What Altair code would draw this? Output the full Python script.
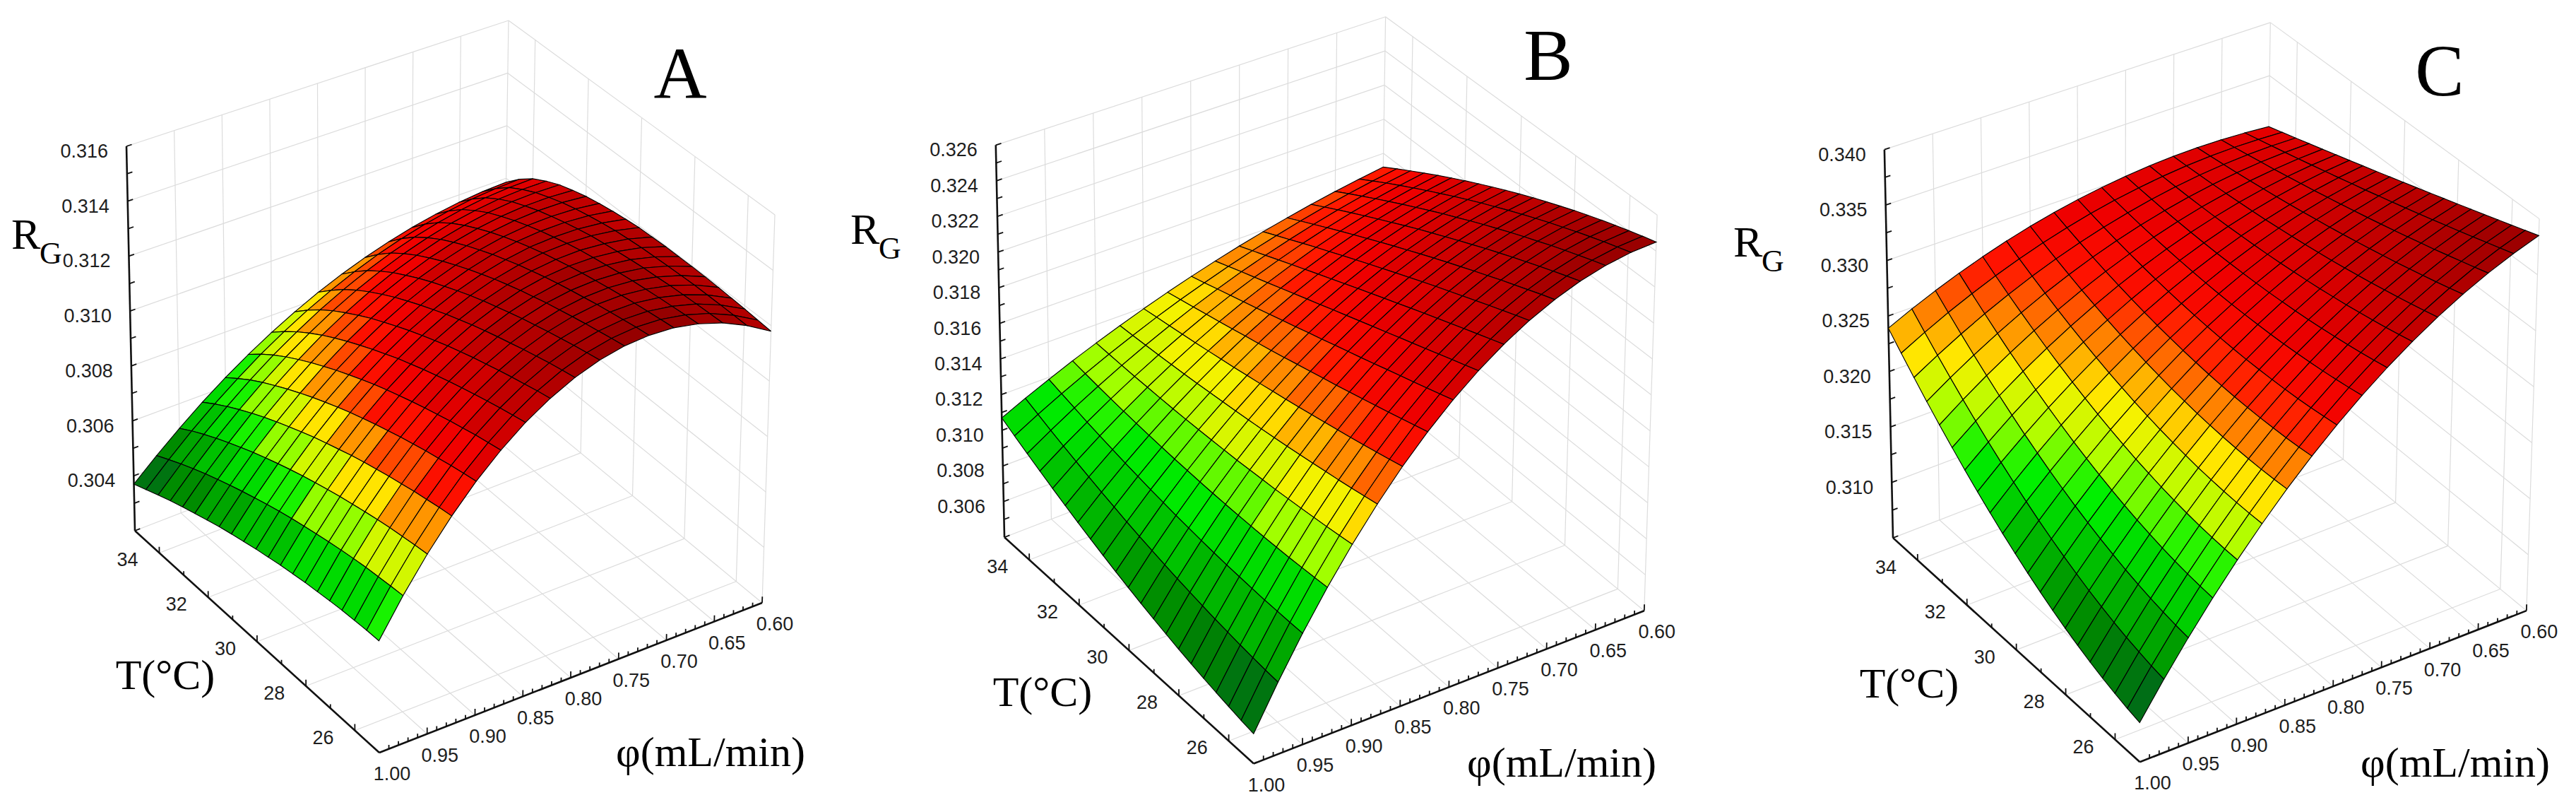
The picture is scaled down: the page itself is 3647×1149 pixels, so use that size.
import altair as alt
import pandas as pd

# ---------------- values ----------------
T_VALUES = [25.0, 25.5, 26.0, 26.5, 27.0, 27.5, 28.0, 28.5, 29.0, 29.5, 30.0,
            30.5, 31.0, 31.5, 32.0, 32.5, 33.0, 33.5, 34.0, 34.5, 35.0]
PHI_VALUES = [0.600, 0.625, 0.650, 0.675, 0.700, 0.725, 0.750, 0.775, 0.800,
              0.825, 0.850, 0.875, 0.900, 0.925, 0.950, 0.975, 1.000]

# rows: T = 25 ... 35 (step 0.5) ; columns: phi = 0.600 ... 1.000 (step 0.025)
RG_A = [
    [0.31180, 0.31232, 0.31273, 0.31301, 0.31318, 0.31322, 0.31315, 0.31296, 0.31265, 0.31222, 0.31168, 0.31101, 0.31023, 0.30932, 0.30830, 0.30716, 0.30590],
    [0.31184, 0.31233, 0.31271, 0.31297, 0.31312, 0.31315, 0.31306, 0.31286, 0.31255, 0.31212, 0.31157, 0.31091, 0.31014, 0.30925, 0.30824, 0.30712, 0.30589],
    [0.31188, 0.31234, 0.31269, 0.31292, 0.31305, 0.31306, 0.31296, 0.31276, 0.31244, 0.31200, 0.31146, 0.31081, 0.31004, 0.30916, 0.30817, 0.30707, 0.30586],
    [0.31191, 0.31234, 0.31266, 0.31287, 0.31298, 0.31297, 0.31286, 0.31264, 0.31232, 0.31188, 0.31134, 0.31069, 0.30993, 0.30907, 0.30810, 0.30702, 0.30583],
    [0.31194, 0.31234, 0.31263, 0.31281, 0.31290, 0.31288, 0.31275, 0.31252, 0.31219, 0.31175, 0.31121, 0.31057, 0.30982, 0.30896, 0.30801, 0.30695, 0.30578],
    [0.31196, 0.31232, 0.31258, 0.31275, 0.31281, 0.31277, 0.31263, 0.31239, 0.31205, 0.31161, 0.31107, 0.31043, 0.30969, 0.30885, 0.30791, 0.30687, 0.30572],
    [0.31197, 0.31230, 0.31254, 0.31267, 0.31271, 0.31266, 0.31251, 0.31226, 0.31191, 0.31147, 0.31093, 0.31029, 0.30956, 0.30873, 0.30780, 0.30678, 0.30566],
    [0.31197, 0.31227, 0.31248, 0.31259, 0.31261, 0.31254, 0.31237, 0.31211, 0.31176, 0.31131, 0.31077, 0.31014, 0.30941, 0.30860, 0.30769, 0.30668, 0.30558],
    [0.31197, 0.31224, 0.31241, 0.31250, 0.31250, 0.31241, 0.31223, 0.31195, 0.31160, 0.31115, 0.31061, 0.30998, 0.30926, 0.30846, 0.30756, 0.30657, 0.30550],
    [0.31195, 0.31219, 0.31233, 0.31240, 0.31237, 0.31226, 0.31207, 0.31179, 0.31142, 0.31097, 0.31043, 0.30981, 0.30910, 0.30830, 0.30742, 0.30646, 0.30540],
    [0.31193, 0.31213, 0.31225, 0.31228, 0.31224, 0.31211, 0.31190, 0.31161, 0.31124, 0.31078, 0.31025, 0.30963, 0.30893, 0.30814, 0.30728, 0.30633, 0.30530],
    [0.31187, 0.31204, 0.31213, 0.31214, 0.31208, 0.31193, 0.31171, 0.31141, 0.31103, 0.31058, 0.31004, 0.30943, 0.30874, 0.30797, 0.30712, 0.30619, 0.30518],
    [0.31180, 0.31194, 0.31200, 0.31199, 0.31191, 0.31175, 0.31151, 0.31120, 0.31082, 0.31036, 0.30983, 0.30922, 0.30854, 0.30778, 0.30695, 0.30604, 0.30506],
    [0.31171, 0.31182, 0.31185, 0.31182, 0.31172, 0.31154, 0.31129, 0.31098, 0.31059, 0.31013, 0.30960, 0.30900, 0.30833, 0.30758, 0.30677, 0.30588, 0.30493],
    [0.31160, 0.31168, 0.31169, 0.31163, 0.31151, 0.31132, 0.31106, 0.31074, 0.31035, 0.30989, 0.30936, 0.30876, 0.30810, 0.30737, 0.30658, 0.30571, 0.30478],
    [0.31145, 0.31150, 0.31149, 0.31141, 0.31127, 0.31107, 0.31080, 0.31047, 0.31008, 0.30962, 0.30910, 0.30851, 0.30786, 0.30715, 0.30637, 0.30553, 0.30462],
    [0.31128, 0.31130, 0.31127, 0.31117, 0.31101, 0.31080, 0.31052, 0.31019, 0.30979, 0.30933, 0.30882, 0.30824, 0.30760, 0.30691, 0.30615, 0.30534, 0.30446],
    [0.31104, 0.31104, 0.31099, 0.31087, 0.31071, 0.31048, 0.31020, 0.30986, 0.30947, 0.30902, 0.30851, 0.30795, 0.30733, 0.30665, 0.30592, 0.30513, 0.30429],
    [0.31075, 0.31073, 0.31066, 0.31053, 0.31035, 0.31012, 0.30984, 0.30950, 0.30911, 0.30867, 0.30817, 0.30763, 0.30703, 0.30637, 0.30567, 0.30491, 0.30410],
    [0.31035, 0.31031, 0.31023, 0.31009, 0.30991, 0.30968, 0.30940, 0.30907, 0.30869, 0.30827, 0.30779, 0.30727, 0.30669, 0.30607, 0.30540, 0.30467, 0.30390],
    [0.30985, 0.30981, 0.30972, 0.30958, 0.30940, 0.30917, 0.30890, 0.30859, 0.30823, 0.30782, 0.30737, 0.30687, 0.30633, 0.30574, 0.30510, 0.30442, 0.30370],
]
RG_B = [
    [0.32450, 0.32441, 0.32417, 0.32379, 0.32326, 0.32259, 0.32177, 0.32081, 0.31970, 0.31845, 0.31705, 0.31550, 0.31381, 0.31198, 0.31000, 0.30787, 0.30560],
    [0.32427, 0.32415, 0.32390, 0.32351, 0.32298, 0.32231, 0.32149, 0.32054, 0.31945, 0.31823, 0.31686, 0.31535, 0.31370, 0.31192, 0.30999, 0.30792, 0.30572],
    [0.32402, 0.32389, 0.32362, 0.32322, 0.32268, 0.32202, 0.32121, 0.32028, 0.31921, 0.31801, 0.31667, 0.31520, 0.31360, 0.31187, 0.31000, 0.30799, 0.30586],
    [0.32376, 0.32361, 0.32333, 0.32292, 0.32238, 0.32172, 0.32093, 0.32001, 0.31896, 0.31779, 0.31649, 0.31506, 0.31351, 0.31182, 0.31001, 0.30807, 0.30601],
    [0.32349, 0.32332, 0.32303, 0.32261, 0.32208, 0.32142, 0.32064, 0.31974, 0.31872, 0.31758, 0.31631, 0.31493, 0.31342, 0.31179, 0.31004, 0.30817, 0.30617],
    [0.32320, 0.32301, 0.32271, 0.32230, 0.32176, 0.32111, 0.32035, 0.31947, 0.31848, 0.31736, 0.31614, 0.31480, 0.31334, 0.31176, 0.31008, 0.30827, 0.30635],
    [0.32290, 0.32270, 0.32239, 0.32197, 0.32144, 0.32080, 0.32006, 0.31920, 0.31823, 0.31715, 0.31597, 0.31467, 0.31326, 0.31175, 0.31012, 0.30839, 0.30654],
    [0.32258, 0.32237, 0.32206, 0.32164, 0.32111, 0.32049, 0.31976, 0.31892, 0.31798, 0.31694, 0.31580, 0.31455, 0.31320, 0.31174, 0.31018, 0.30852, 0.30675],
    [0.32225, 0.32203, 0.32171, 0.32129, 0.32078, 0.32017, 0.31945, 0.31865, 0.31774, 0.31674, 0.31563, 0.31443, 0.31314, 0.31174, 0.31025, 0.30866, 0.30697],
    [0.32191, 0.32168, 0.32136, 0.32094, 0.32044, 0.31984, 0.31915, 0.31837, 0.31750, 0.31653, 0.31547, 0.31432, 0.31308, 0.31175, 0.31033, 0.30881, 0.30720],
    [0.32155, 0.32131, 0.32099, 0.32058, 0.32009, 0.31951, 0.31884, 0.31809, 0.31725, 0.31633, 0.31532, 0.31422, 0.31304, 0.31177, 0.31042, 0.30898, 0.30745],
    [0.32118, 0.32094, 0.32061, 0.32021, 0.31973, 0.31917, 0.31853, 0.31781, 0.31701, 0.31612, 0.31516, 0.31412, 0.31300, 0.31180, 0.31052, 0.30915, 0.30771],
    [0.32079, 0.32055, 0.32023, 0.31984, 0.31937, 0.31883, 0.31821, 0.31752, 0.31676, 0.31592, 0.31501, 0.31403, 0.31297, 0.31183, 0.31063, 0.30934, 0.30799],
    [0.32039, 0.32015, 0.31983, 0.31945, 0.31900, 0.31848, 0.31789, 0.31724, 0.31652, 0.31572, 0.31486, 0.31394, 0.31294, 0.31188, 0.31075, 0.30955, 0.30828],
    [0.31998, 0.31973, 0.31942, 0.31905, 0.31862, 0.31813, 0.31757, 0.31695, 0.31627, 0.31553, 0.31472, 0.31385, 0.31292, 0.31193, 0.31088, 0.30976, 0.30858],
    [0.31955, 0.31931, 0.31901, 0.31865, 0.31824, 0.31777, 0.31724, 0.31666, 0.31602, 0.31533, 0.31458, 0.31377, 0.31291, 0.31199, 0.31102, 0.30999, 0.30890],
    [0.31911, 0.31887, 0.31858, 0.31824, 0.31785, 0.31741, 0.31691, 0.31637, 0.31578, 0.31514, 0.31444, 0.31370, 0.31291, 0.31206, 0.31117, 0.31023, 0.30923],
    [0.31865, 0.31842, 0.31814, 0.31782, 0.31745, 0.31704, 0.31658, 0.31608, 0.31554, 0.31495, 0.31431, 0.31363, 0.31291, 0.31214, 0.31133, 0.31048, 0.30958],
    [0.31818, 0.31796, 0.31769, 0.31739, 0.31704, 0.31666, 0.31624, 0.31579, 0.31529, 0.31476, 0.31418, 0.31357, 0.31292, 0.31223, 0.31151, 0.31074, 0.30994],
    [0.31770, 0.31748, 0.31723, 0.31695, 0.31663, 0.31628, 0.31590, 0.31549, 0.31504, 0.31457, 0.31406, 0.31351, 0.31294, 0.31233, 0.31169, 0.31102, 0.31031],
    [0.31720, 0.31699, 0.31676, 0.31650, 0.31621, 0.31590, 0.31556, 0.31519, 0.31480, 0.31438, 0.31393, 0.31346, 0.31296, 0.31244, 0.31188, 0.31131, 0.31070],
]
RG_C = [
    [0.33850, 0.33767, 0.33671, 0.33560, 0.33435, 0.33296, 0.33143, 0.32976, 0.32795, 0.32600, 0.32391, 0.32167, 0.31930, 0.31679, 0.31413, 0.31134, 0.30840],
    [0.33809, 0.33728, 0.33633, 0.33525, 0.33403, 0.33267, 0.33118, 0.32955, 0.32778, 0.32587, 0.32383, 0.32164, 0.31932, 0.31687, 0.31427, 0.31154, 0.30867],
    [0.33767, 0.33689, 0.33597, 0.33491, 0.33373, 0.33240, 0.33095, 0.32936, 0.32763, 0.32577, 0.32378, 0.32165, 0.31939, 0.31699, 0.31446, 0.31180, 0.30900],
    [0.33726, 0.33650, 0.33561, 0.33459, 0.33343, 0.33215, 0.33074, 0.32919, 0.32751, 0.32571, 0.32377, 0.32170, 0.31949, 0.31716, 0.31470, 0.31210, 0.30937],
    [0.33684, 0.33611, 0.33525, 0.33427, 0.33316, 0.33191, 0.33055, 0.32905, 0.32742, 0.32567, 0.32379, 0.32178, 0.31964, 0.31737, 0.31498, 0.31245, 0.30980],
    [0.33643, 0.33573, 0.33491, 0.33396, 0.33289, 0.33169, 0.33037, 0.32893, 0.32736, 0.32566, 0.32384, 0.32189, 0.31982, 0.31763, 0.31530, 0.31286, 0.31029],
    [0.33601, 0.33535, 0.33457, 0.33366, 0.33264, 0.33149, 0.33022, 0.32883, 0.32732, 0.32568, 0.32393, 0.32205, 0.32005, 0.31792, 0.31568, 0.31331, 0.31082],
    [0.33560, 0.33497, 0.33423, 0.33338, 0.33240, 0.33130, 0.33009, 0.32876, 0.32730, 0.32573, 0.32404, 0.32224, 0.32031, 0.31826, 0.31610, 0.31382, 0.31141],
    [0.33518, 0.33460, 0.33391, 0.33310, 0.33217, 0.33113, 0.32998, 0.32871, 0.32732, 0.32581, 0.32420, 0.32246, 0.32061, 0.31865, 0.31657, 0.31437, 0.31206],
    [0.33477, 0.33423, 0.33359, 0.33283, 0.33196, 0.33098, 0.32988, 0.32868, 0.32736, 0.32593, 0.32438, 0.32272, 0.32095, 0.31907, 0.31708, 0.31497, 0.31275],
    [0.33435, 0.33387, 0.33328, 0.33257, 0.33176, 0.33084, 0.32981, 0.32867, 0.32743, 0.32607, 0.32460, 0.32302, 0.32134, 0.31954, 0.31764, 0.31562, 0.31350],
    [0.33394, 0.33350, 0.33297, 0.33233, 0.33158, 0.33072, 0.32976, 0.32869, 0.32752, 0.32624, 0.32485, 0.32336, 0.32176, 0.32005, 0.31824, 0.31633, 0.31430],
    [0.33352, 0.33315, 0.33267, 0.33209, 0.33140, 0.33062, 0.32973, 0.32873, 0.32764, 0.32644, 0.32514, 0.32373, 0.32222, 0.32061, 0.31890, 0.31708, 0.31516],
    [0.33311, 0.33279, 0.33237, 0.33186, 0.33124, 0.33053, 0.32971, 0.32880, 0.32778, 0.32667, 0.32545, 0.32414, 0.32272, 0.32121, 0.31959, 0.31788, 0.31606],
    [0.33269, 0.33244, 0.33209, 0.33164, 0.33110, 0.33046, 0.32972, 0.32889, 0.32796, 0.32693, 0.32580, 0.32458, 0.32327, 0.32185, 0.32034, 0.31873, 0.31702],
    [0.33228, 0.33209, 0.33181, 0.33143, 0.33097, 0.33040, 0.32975, 0.32900, 0.32816, 0.32722, 0.32619, 0.32506, 0.32385, 0.32254, 0.32113, 0.31963, 0.31804],
    [0.33186, 0.33174, 0.33153, 0.33124, 0.33085, 0.33037, 0.32980, 0.32913, 0.32838, 0.32754, 0.32661, 0.32558, 0.32447, 0.32326, 0.32197, 0.32058, 0.31910],
    [0.33145, 0.33140, 0.33127, 0.33105, 0.33074, 0.33034, 0.32986, 0.32929, 0.32863, 0.32789, 0.32706, 0.32614, 0.32513, 0.32403, 0.32285, 0.32158, 0.32022],
    [0.33103, 0.33106, 0.33101, 0.33087, 0.33065, 0.33034, 0.32995, 0.32947, 0.32891, 0.32827, 0.32754, 0.32673, 0.32583, 0.32485, 0.32378, 0.32263, 0.32140],
    [0.33062, 0.33072, 0.33075, 0.33070, 0.33057, 0.33035, 0.33005, 0.32968, 0.32922, 0.32868, 0.32806, 0.32735, 0.32657, 0.32570, 0.32476, 0.32373, 0.32262],
    [0.33020, 0.33039, 0.33051, 0.33054, 0.33050, 0.33038, 0.33018, 0.32990, 0.32955, 0.32912, 0.32861, 0.32802, 0.32735, 0.32660, 0.32578, 0.32488, 0.32390],
]

T_TICKS = [26, 28, 30, 32, 34]
PHI_TICKS = [0.60, 0.65, 0.70, 0.75, 0.80, 0.85, 0.90, 0.95, 1.00]
Z_TICKS_A = [0.304, 0.306, 0.308, 0.310, 0.312, 0.314, 0.316]
Z_TICKS_B = [0.306, 0.308, 0.310, 0.312, 0.314, 0.316, 0.318, 0.320, 0.322, 0.324, 0.326]
Z_TICKS_C = [0.310, 0.315, 0.320, 0.325, 0.330, 0.335, 0.340]

PANELS = {
    "A": dict(rg=RG_A, zr=(0.302, 0.316), zt=Z_TICKS_A, minor=0.001),
    "B": dict(rg=RG_B, zr=(0.304, 0.326), zt=Z_TICKS_B, minor=0.001),
    "C": dict(rg=RG_C, zr=(0.305, 0.340), zt=Z_TICKS_C, minor=0.0025),
}

# ---------------- 3-D box geometry (layout) ----------------
T_MIN, T_MAX = 25.0, 35.0
PHI_MIN, PHI_MAX = 0.60, 1.00
BOX = {"L0": (191, 751), "F0": (537, 1065), "R0": (1079, 853), "B0": (712, 550),
       "L1": (179, 207), "F1": (535, 497), "R1": (1097, 304), "B1": (720, 29)}
FRAME = {"A": (640, 540, 1.0), "B": (1880, 545, 1.02), "C": (3133.5, 548, 1.01)}
MARGIN = 8
W, H = 3631, 1133


def make_proj(name):
    zf, zt = PANELS[name]["zr"]
    ox, oy, sc = FRAME[name]

    def proj(T, phi, z):
        u = (T - T_MIN) / (T_MAX - T_MIN)
        v = (phi - PHI_MIN) / (PHI_MAX - PHI_MIN)
        w = (z - zf) / (zt - zf)
        wts = {"L": u * v, "F": (1 - u) * v, "R": (1 - u) * (1 - v), "B": u * (1 - v)}
        x = y = 0.0
        for k, wt in wts.items():
            x0, y0 = BOX[k + "0"]
            x1, y1 = BOX[k + "1"]
            x += wt * ((1 - w) * x0 + w * x1)
            y += wt * ((1 - w) * y0 + w * y1)
        return [round(ox + sc * (x - 640) - MARGIN, 2), round(oy + sc * (y - 540) - MARGIN, 2)]
    return proj


PALETTE = [(0.00, (0, 90, 40)), (0.10, (0, 135, 0)), (0.21, (0, 190, 0)),
           (0.31, (0, 240, 0)), (0.38, (165, 255, 0)), (0.47, (255, 240, 0)),
           (0.54, (255, 135, 0)), (0.62, (255, 20, 0)), (0.69, (240, 0, 0)),
           (0.82, (200, 0, 0)), (1.00, (150, 0, 0))]
LEVEL = 0.0005


def pal(t):
    t = min(max(t, 0.0), 1.0)
    for (t0, c0), (t1, c1) in zip(PALETTE[:-1], PALETTE[1:]):
        if t <= t1:
            f = (t - t0) / (t1 - t0)
            return "#%02x%02x%02x" % tuple(int(round(a + f * (b - a))) for a, b in zip(c0, c1))
    return "#%02x%02x%02x" % PALETTE[-1][1]


def line(a, b):
    return {"type": "Feature", "geometry": {"type": "LineString", "coordinates": [a, b]},
            "properties": {}}


grid_f, axis_f, tick_f, quad_f = [], [], [], []
zlab, tlab, plab = [], [], []

for name, P in PANELS.items():
    pr = make_proj(name)
    zf, zt = P["zr"]
    rg = P["rg"]
    # walls and floor grid
    for z in [zf] + P["zt"]:
        grid_f.append(line(pr(T_MAX, PHI_MAX, z), pr(T_MAX, PHI_MIN, z)))
        grid_f.append(line(pr(T_MAX, PHI_MIN, z), pr(T_MIN, PHI_MIN, z)))
    for ph in PHI_TICKS[:-1]:
        grid_f.append(line(pr(T_MAX, ph, zf), pr(T_MAX, ph, zt)))
    for T in [T_MIN] + T_TICKS:
        grid_f.append(line(pr(T, PHI_MIN, zf), pr(T, PHI_MIN, zt)))
    for ph in PHI_TICKS[1:-1]:
        grid_f.append(line(pr(T_MAX, ph, zf), pr(T_MIN, ph, zf)))
    for T in T_TICKS:
        grid_f.append(line(pr(T, PHI_MIN, zf), pr(T, PHI_MAX, zf)))
    # axes
    axis_f.append(line(pr(T_MAX, PHI_MAX, zf), pr(T_MAX, PHI_MAX, zt)))
    axis_f.append(line(pr(T_MAX, PHI_MAX, zf), pr(T_MIN, PHI_MAX, zf)))
    axis_f.append(line(pr(T_MIN, PHI_MAX, zf), pr(T_MIN, PHI_MIN, zf)))
    # z ticks
    n = int(round((zt - zf) / P["minor"]))
    for k in range(n + 1):
        z = zf + k * P["minor"]
        tick_f.append(line(pr(T_MAX, PHI_MAX, z), pr(T_MAX, PHI_MAX - 0.0056, z)))
    for z in P["zt"]:
        x, y = pr(T_MAX, PHI_MAX, z)
        zlab.append({"x": x - 26, "y": y + 8, "label": "%.3f" % z})
    # T ticks
    dz = (zt - zf)
    for T in range(26, 35):
        h = 0.016 if T % 2 == 0 else 0.010
        tick_f.append(line(pr(T, PHI_MAX, zf), pr(T, PHI_MAX, zf + h * dz)))
    for T in T_TICKS:
        x, y = pr(T, PHI_MAX, zf)
        tlab.append({"x": x - 45, "y": y + 11, "label": str(T)})
    # phi ticks
    for k in range(40):
        ph = 0.60 + k * 0.01
        h = 0.016 if k % 5 == 0 else 0.010
        tick_f.append(line(pr(T_MIN, ph, zf), pr(T_MIN, ph, zf + h * dz)))
    for ph in PHI_TICKS:
        x, y = pr(T_MIN, ph, zf)
        plab.append({"x": x + 18, "y": y + 31, "label": "%.2f" % ph})
    # surface
    zmin = min(min(r) for r in rg)
    zmax = max(max(r) for r in rg)
    nT, nP = len(T_VALUES) - 1, len(PHI_VALUES) - 1
    quads = []
    for i in range(nT):
        for j in range(nP):
            idx = [(i, j), (i + 1, j), (i + 1, j + 1), (i, j + 1)]
            coords = [pr(T_VALUES[a], PHI_VALUES[b], rg[a][b]) for a, b in idx]
            zq = sum(rg[a][b] for a, b in idx) / 4.0
            band = int(zq / LEVEL)
            zc = min(max((band + 0.5) * LEVEL, zmin), zmax)
            col = pal((zc - zmin) / (zmax - zmin))
            uc = (i + 0.5) / nT
            vc = (j + 0.5) / nP
            depth = 314 * uc + 212 * (1 - vc)
            quads.append((depth, {"type": "Feature",
                                  "geometry": {"type": "Polygon", "coordinates": [coords + [coords[0]]]},
                                  "properties": {"col": col}}))
    quads.sort(key=lambda q: -q[0])
    quad_f.extend(q[1] for q in quads)

# titles (layout positions, page pixels)
LETTERS = [("A", 963, 139), ("B", 2192, 113), ("C", 3454, 135)]
R_POS = [(16, 352), (1204, 345), (2454, 363)]
T_TITLE = [(234, 975), (1476, 999), (2703, 987)]
PHI_TITLE = [(1006, 1084), (2211, 1099), (3476, 1099)]


def df(rows):
    return pd.DataFrame([{"x": x - MARGIN, "y": y - MARGIN, "label": s} for s, x, y in rows])


PROJ = dict(type="identity", scale=1, translate=[0, 0])

grid = alt.Chart(alt.Data(values=grid_f)).mark_geoshape(
    filled=False, stroke="#dcdcdc", strokeWidth=1.2).project(**PROJ)
axes = alt.Chart(alt.Data(values=axis_f)).mark_geoshape(
    filled=False, stroke="#111111", strokeWidth=2.6).project(**PROJ)
ticks = alt.Chart(alt.Data(values=tick_f)).mark_geoshape(
    filled=False, stroke="#111111", strokeWidth=1.8).project(**PROJ)
surface = alt.Chart(alt.Data(values=quad_f)).mark_geoshape(
    stroke="#000000", strokeWidth=1.15).encode(
    fill=alt.Fill("properties.col:N", scale=None)).project(**PROJ)


def text_layer(data, **kw):
    return alt.Chart(data).mark_text(**kw).encode(
        longitude="x:Q", latitude="y:Q", text="label:N").project(**PROJ)


zl = pd.DataFrame(zlab)
tl = pd.DataFrame(tlab)
pl = pd.DataFrame(plab)
sans = dict(font="Liberation Sans", fontSize=27, color="#1e1e1e")
serif = dict(font="Liberation Serif", color="#000000")

layers = [
    grid, axes, ticks, surface,
    text_layer(zl, align="right", baseline="middle", **sans),
    text_layer(tl, align="center", baseline="middle", **sans),
    text_layer(pl, align="center", baseline="middle", **sans),
    text_layer(df(LETTERS), align="center", baseline="alphabetic", fontSize=104, **serif),
    text_layer(df([("R", x, y) for x, y in R_POS]), align="left", baseline="alphabetic",
               fontSize=62, **serif),
    text_layer(df([("G", x + 40, y + 21) for x, y in R_POS]), align="left",
               baseline="alphabetic", fontSize=44, **serif),
    text_layer(df([("T(°C)", x, y) for x, y in T_TITLE]), align="center",
               baseline="alphabetic", fontSize=60, **serif),
    text_layer(df([("φ(mL/min)", x, y) for x, y in PHI_TITLE]), align="center",
               baseline="alphabetic", fontSize=60, **serif),
]

chart = alt.layer(*layers).properties(
    width=W, height=H, padding=0,
    autosize=alt.AutoSizeParams(type="none")
).configure_view(strokeWidth=0)

chart.save("out.html", embed_options={"renderer": "svg", "actions": False})
